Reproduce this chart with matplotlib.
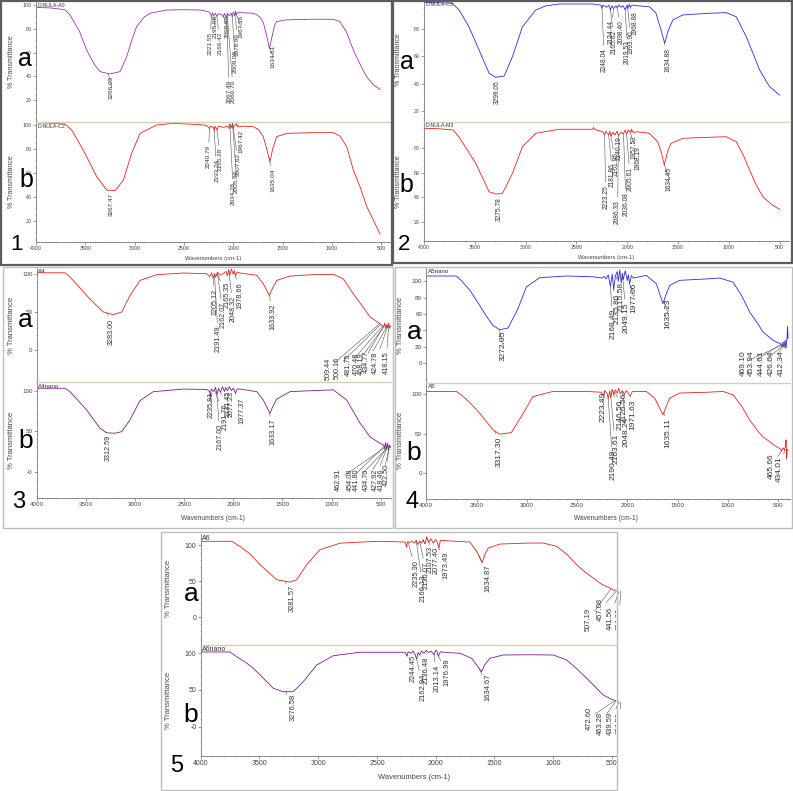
import numpy as np
import matplotlib.pyplot as plt
from matplotlib.patches import Rectangle
from matplotlib.ticker import MultipleLocator

plt.rcParams['font.family'] = ['Liberation Sans', 'DejaVu Sans']

W, H = 793, 791

# ---- spectra: (wavenumber, %T) ----
a0_pts = [(4000, 98), (3850, 97.5), (3706, 96), (3655, 91.6), (3560, 78), (3486, 62), (3400, 49), (3351, 44),
          (3250, 42), (3148, 44), (3080, 56.6), (3030, 70), (2979, 82), (2900, 90), (2844, 93), (2675, 95.8),
          (2500, 96), (2337, 95.8), (2260, 94.5), (2230, 93), (2220, 90), (2210, 93.5), (2195, 91), (2180, 93),
          (2166, 90.5), (2150, 92.5), (2120, 92), (2100, 90), (2090, 93), (2070, 89), (2060, 93), (2040, 91),
          (2020, 93), (2010, 90), (2000, 94), (1985, 91), (1978, 95), (1968, 92), (1950, 94), (1900, 93.5),
          (1800, 93), (1762, 92), (1720, 89), (1694, 85), (1660, 74), (1633, 63.5), (1610, 72), (1580, 83),
          (1560, 86), (1458, 87.5), (1200, 88), (986, 88), (917, 86), (850, 77), (782, 62.2), (700, 48),
          (647, 39.7), (580, 33), (511, 29)]
c2_pts = [(4000, 101.9), (3850, 101.5), (3706, 100.8), (3638, 95.8), (3520, 79), (3385, 57), (3283, 45.8),
          (3199, 45.3), (3114, 54), (3030, 76.4), (2945, 93), (2776, 100), (2607, 101.4), (2337, 100.3),
          (2269, 99.7), (2240, 97), (2230, 99), (2200, 98), (2193, 95), (2185, 99), (2165, 96), (2150, 99),
          (2100, 98), (2060, 99), (2040, 97), (2034, 101), (2020, 97.5), (2007, 101.5), (2000, 97), (1990, 99.5),
          (1967, 101), (1950, 98.5), (1900, 99), (1796, 98.6), (1740, 96), (1695, 90.3), (1660, 80), (1627, 69.5),
          (1600, 80), (1559, 90.3), (1458, 93), (1200, 93.6), (985, 93.6), (917, 90.8), (849, 82), (782, 62.5),
          (714, 48.6), (646, 32), (579, 21), (511, 9)]
c3_pts = [(4000, 99.3), (3850, 99.2), (3721, 98.8), (3655, 94), (3560, 82), (3458, 64.7), (3359, 47.6),
          (3294, 44.7), (3211, 45.6), (3129, 59.8), (3031, 81.7), (2900, 93.9), (2800, 97), (2669, 98.3),
          (2340, 98.3), (2260, 97.5), (2248, 95), (2240, 97.5), (2200, 96), (2180, 97.5), (2165, 94), (2150, 97),
          (2134, 95), (2110, 97), (2098, 95.5), (2080, 97.5), (2060, 96), (2040, 97), (2019, 94), (2000, 97.5),
          (1994, 95), (1980, 98), (1969, 96), (1950, 97.5), (1900, 97), (1781, 96.3), (1716, 91.5), (1670, 80),
          (1630, 69.5), (1600, 78), (1551, 86.6), (1453, 90.3), (1200, 91.5), (1025, 92), (927, 89), (828, 74.4),
          (760, 62), (696, 50), (598, 37.8), (500, 31.7)]
m3_pts = [(4000, 96.4), (3850, 96), (3713, 95), (3657, 89.5), (3491, 67.7), (3359, 44.4), (3294, 42.5),
          (3228, 43), (3129, 59.5), (3031, 81.3), (2900, 92.3), (2669, 95.6), (2340, 95.6), (2330, 97),
          (2320, 95.5), (2242, 93.6), (2223, 91), (2210, 94), (2182, 91), (2170, 94), (2160, 90), (2140, 93),
          (2120, 91), (2100, 94), (2086, 90.5), (2060, 93), (2036, 92), (2020, 95), (2005, 91.5), (1990, 95),
          (1968, 93), (1957, 95.5), (1940, 93), (1900, 93.5), (1781, 92.3), (1700, 85.4), (1665, 77), (1634, 66.3),
          (1600, 78), (1568, 84), (1453, 88.2), (1200, 89), (1025, 89.5), (927, 85.4), (860, 75), (795, 62.2),
          (730, 50), (664, 40.3), (580, 34), (500, 30)]
a4_pts = [(4000, 102), (3712, 102), (3661, 96.4), (3580, 85), (3491, 72), (3400, 60), (3322, 50.4), (3221, 47),
          (3135, 50.4), (3051, 72), (2949, 92), (2779, 99.5), (2509, 101.7), (2271, 100.8), (2240, 97),
          (2220, 102), (2205, 95), (2190, 101), (2180, 96), (2160, 103), (2140, 99), (2100, 101), (2075, 104),
          (2060, 98), (2048, 106), (2035, 99), (2020, 107), (2000, 100), (1990, 105), (1978, 98), (1960, 103),
          (1932, 101.7), (1762, 98.7), (1695, 87.6), (1634, 72.4), (1600, 82), (1558, 92), (1423, 97.7),
          (1200, 99.5), (983, 100), (881, 94), (745, 68), (680, 57), (609, 43.8), (508, 35), (470, 31), (460, 36),
          (450, 29), (440, 34), (430, 30), (420, 36), (410, 29), (400, 32)]
a4n_pts = [(4000, 103), (3712, 103), (3661, 98.8), (3580, 88), (3491, 76), (3356, 53.6), (3288, 48), (3200, 47.5),
           (3135, 49.4), (3051, 64), (2949, 87.7), (2814, 98.8), (2509, 102), (2271, 101.5), (2240, 99),
           (2235, 90), (2225, 102), (2200, 99), (2180, 104), (2167, 95), (2150, 103), (2131, 98), (2110, 105),
           (2090, 99), (2077, 104), (2060, 100), (2040, 105), (2020, 100), (2000, 103), (1977, 97), (1960, 102),
           (1932, 102), (1762, 98.8), (1695, 88.5), (1627, 72), (1600, 80), (1558, 89.7), (1423, 98.8),
           (1200, 100), (983, 101), (847, 88.5), (711, 60), (609, 43), (508, 35), (470, 33), (460, 28), (450, 36),
           (440, 27), (430, 35), (420, 26), (410, 33), (400, 30)]
a5n_pts = [(4000, 106.5), (3701, 106.5), (3652, 101), (3560, 88), (3469, 70.6), (3400, 57), (3336, 46),
           (3270, 40.8), (3187, 42.8), (3088, 66.5), (3005, 93), (2872, 104.4), (2607, 106.5), (2341, 105.6),
           (2250, 104), (2230, 106), (2210, 103), (2190, 108), (2168, 94), (2150, 109), (2135, 90), (2120, 106),
           (2100, 112), (2090, 100), (2075, 114), (2060, 98), (2049, 110), (2040, 102), (2020, 113), (2000, 101),
           (1990, 108), (1977, 97), (1960, 107), (1940, 104), (1811, 107.3), (1711, 97), (1645, 72.6), (1620, 82),
           (1578, 95), (1479, 101.2), (1200, 103), (1081, 104), (948, 99), (860, 82), (782, 62.4), (700, 48),
           (650, 38), (560, 29), (517, 25.7), (480, 24), (460, 20), (451, 26), (440, 19), (430, 28), (420, 18),
           (410, 32), (405, 45), (400, 30)]
a5_pts = [(4000, 103), (3701, 103), (3652, 98.7), (3560, 88), (3469, 75.6), (3336, 54.6), (3270, 49.2),
          (3154, 51.2), (3055, 71.4), (2938, 96.6), (2739, 103), (2408, 103), (2260, 102), (2240, 98), (2223, 104),
          (2200, 100), (2190, 94), (2175, 104), (2163, 95), (2150, 106), (2135, 99), (2120, 105), (2100, 101),
          (2085, 107), (2070, 100), (2048, 104), (2030, 99), (2010, 104), (1990, 101), (1971, 97), (1950, 103),
          (1811, 103), (1727, 94.6), (1645, 73.5), (1620, 82), (1578, 94.6), (1479, 101), (1200, 102),
          (1048, 103), (948, 98.7), (860, 84), (782, 67), (700, 53), (650, 46), (517, 33.5), (480, 31), (465, 28),
          (450, 32), (434, 29), (425, 36), (420, 42), (415, 18), (410, 30), (400, 29)]
a6_pts = [(4000, 105.6), (3736, 105.6), (3666, 98.6), (3580, 88), (3495, 73), (3420, 62), (3353, 52),
          (3240, 48.8), (3183, 52), (3098, 73), (2985, 93.9), (2814, 103), (2502, 105.6), (2260, 104.6),
          (2247, 97), (2240, 105), (2220, 104), (2200, 106), (2180, 103), (2166, 107), (2150, 101), (2136, 106),
          (2120, 103), (2107, 108), (2090, 102), (2077, 112), (2060, 104), (2040, 109), (2020, 103), (2000, 108),
          (1985, 104), (1973, 96), (1960, 107), (1906, 106.4), (1708, 104.6), (1651, 91.6), (1603, 76.3),
          (1580, 88), (1552, 96.2), (1453, 101.8), (1200, 103.2), (1084, 103.2), (970, 98.6), (880, 87),
          (800, 73), (730, 63), (659, 54.4), (590, 46), (517, 40.4), (480, 37), (460, 38), (450, 35),
          (431, 35.9), (420, 37), (400, 33)]
a6n_pts = [(4000, 101.8), (3751, 101.8), (3694, 95.4), (3620, 88), (3552, 79.6), (3460, 65), (3382, 52.3),
           (3297, 47.7), (3212, 47.7), (3127, 61.3), (3013, 84), (2871, 96.7), (2644, 101.4), (2260, 101.4),
           (2244, 96), (2235, 102), (2210, 100), (2190, 103), (2175, 98), (2162, 92), (2150, 101), (2136, 98),
           (2120, 103), (2100, 100), (2080, 104), (2060, 101), (2040, 103), (2013, 98), (2000, 104), (1990, 103),
           (1977, 96), (1960, 102), (1900, 101), (1793, 100), (1694, 93.2), (1609, 75), (1580, 85), (1538, 93.2),
           (1425, 97.7), (1200, 98), (1000, 97.7), (885, 90.9), (800, 79), (715, 66), (640, 54), (574, 43.2),
           (500, 37), (431, 34), (400, 33)]

# ---- peak labels: text, text x (cm-1), top of text (%T) ----
a0_lab = ["3266.03", "2221.55", "2195.08", "2166.42", "2098.60", "2067.49", "2060.70", "2009.09", "1978.99",
          "1967.36", "1634.61"]
a0_lx = [3232, 2235, 2185, 2134, 2066, 2040, 2000, 1979, 1958, 1924, 1593]
a0_ly = [40.3, 77.6, 91.6, 77.6, 91.6, 37, 37, 62, 76.5, 91.6, 66.4]

c2_lab = ["3267.47", "2240.79", "2193.24", "2165.28", "2034.28", "2005.90", "2007.62", "1967.42", "1635.04"]
c2_lx = [3232, 2253, 2167, 2127, 1999, 1965, 1945, 1924, 1593]
c2_ly = [43, 83.3, 71.4, 80.6, 52.8, 62.5, 76.7, 95.8, 63.9]

c3_lab = ["3299.05", "2248.04", "2134.44", "2165.62", "2098.40", "2019.53", "1993.90", "1968.88", "1634.88"]
c3_lx = [3277, 2225, 2160, 2126, 2061, 1995, 1962, 1923, 1601]
c3_ly = [42.7, 65.9, 86.6, 79.3, 86.6, 72, 79.3, 92.7, 65.9]

m3_lab = ["3275.78", "2223.25", "2181.86", "2161.95", "2140.19", "2086.33", "2036.08", "2005.61", "1957.52",
          "1968.19", "1634.45"]
m3_lx = [3260, 2209, 2143, 2110, 2077, 2094, 2012, 1969, 1929, 1896, 1584]
m3_ly = [40.3, 50, 67.7, 77.2, 89.5, 37.6, 44.4, 64.9, 90.9, 81.3, 64.9]

a4_lab = ["3283.00", "2205.12", "2191.49", "2162.07", "2165.35", "2048.32", "1978.66", "1633.92", "509.44",
          "500.16", "481.75", "470.48", "468.19", "434.77", "424.78", "418.15"]
a4_lx = [3237, 2186, 2153, 2102, 2067, 2000, 1932, 1593, 1034, 948, 830, 745, 694, 643, 559, 447]
a4_ly = [41.6, 81, 32.9, 63.5, 89.9, 72.4, 89.9, 61.3, -9, -8, -5, -3, -3, -1, -2, -1]

a4n_lab = ["3312.59", "2235.81", "2167.00", "2191.76", "2131.45", "2077.23", "1977.37", "1633.17", "462.91",
           "454.08", "441.80", "434.70", "427.92", "418.46", "422.50"]
a4n_lx = [3272, 2220, 2135, 2085, 2050, 2024, 1915, 1593, 932, 813, 745, 643, 559, 490, 440]
a4n_ly = [45.3, 99, 59, 83.6, 100, 100, 91.8, 65, 4, 4, 4, 4, 4, 4, 10]

a5n_lab = ["3272.05", "2168.49", "2135.86", "2115.58", "2049.15", "1977.06", "1635.23", "469.10", "453.94",
           "444.61", "426.64", "412.34"]
a5n_lx = [3237, 2142, 2102, 2060, 2010, 1936, 1595, 849, 766, 667, 567, 468]
a5n_ly = [40, 66.5, 84.8, 99, 74.7, 99, 78.7, 15.5, 15.5, 15.5, 15.5, 15.5]

a5_lab = ["3317.30", "2223.49", "2190.49", "2163.61", "2146.56", "2126.56", "2048.24", "1971.63", "1635.11",
          "465.66", "434.01"]
a5_lx = [3270, 2242, 2142, 2115, 2076, 2033, 2010, 1943, 1595, 567, 484]
a5_ly = [46, 102.5, 29.4, 50.4, 92.4, 101, 71.4, 92.4, 69.3, 25.2, 21]

a6_lab = ["3281.57", "2235.30", "2166.13", "2136.07", "2107.53", "2077.40", "1973.49", "1634.87", "507.19",
          "457.08", "441.56", "424.60"]
a6_lx = [3217, 2162, 2106, 2077, 2043, 1997, 1912, 1552, 701, 602, 517, 440]
a6_ly = [45, 80, 59, 77.7, 98.6, 98.6, 91.6, 73, 12.5, 26.5, 15, 12.5]

a6n_lab = ["3276.58", "2244.45", "2162.94", "2136.48", "2013.14", "1976.99", "1634.67", "472.60", "463.28",
           "439.59", "424.59"]
a6n_lx = [3212, 2191, 2106, 2077, 1991, 1901, 1552, 693, 602, 517, 435]
a6n_ly = [45.5, 97.7, 72.8, 95.4, 84, 93.2, 72.8, 27.3, 20.4, 20.4, 20.4]

x_ticks = [4000, 3500, 3000, 2500, 2000, 1500, 1000, 500]

RED = '#e5231d'
BLUE = '#2b2be0'
PURPLE = '#9a35ad'
DPURPLE = '#7c1c8c'
TAN = '#d9ceb2'

fig = plt.figure(figsize=(W / 100, H / 100), dpi=100)


def rect(l, t, r, b):
    return [l / W, 1 - b / H, (r - l) / W, (b - t) / H]


def ftext(x, y, s, **kw):
    fig.text(x / W, 1 - y / H, s, **kw)


def frame(l, t, r, b, color, lw):
    fig.patches.append(Rectangle((l / W, 1 - b / H), (r - l) / W, (b - t) / H, transform=fig.transFigure,
                                 fill=False, edgecolor=color, lw=lw))


def spectrum(box, xlim, ylim, yticks, yticklabels, pts, color, labels, lx, ly, name, fs, tfs, top):
    ax = fig.add_axes(rect(*box))
    wn = np.array([p[0] for p in pts], dtype=float)
    tr = np.array([p[1] for p in pts], dtype=float)
    ax.plot(wn, tr, color=color, lw=0.6)
    for s, tx, ty in zip(labels, lx, ly):
        pk = float(s)
        yv = np.interp(pk, wn[::-1], tr[::-1])
        ax.annotate(s, xy=(pk, yv), xytext=(tx, ty), rotation=90, ha='center', va='top', fontsize=fs,
                    color='#333333', clip_on=True, annotation_clip=False,
                    arrowprops=dict(arrowstyle='-', color='#555555', lw=0.4, shrinkA=0, shrinkB=0))
    ax.set_xlim(*xlim)
    ax.set_ylim(*ylim)
    ax.set_yticks(yticks)
    ax.set_yticklabels(yticklabels)
    ax.set_facecolor('none')
    ax.spines['right'].set_visible(False)
    ax.spines['left'].set_color('#777777')
    ax.spines['left'].set_linewidth(0.6)
    ax.yaxis.set_minor_locator(MultipleLocator(10 if ylim[1] - ylim[0] > 110 else 5))
    ax.tick_params(axis='both', which='major', labelsize=tfs, length=2, width=0.5, pad=1,
                   color='#777777', labelcolor='#444444')
    ax.tick_params(axis='both', which='minor', length=1, width=0.4, color='#888888')
    if top:
        ax.spines['bottom'].set_visible(False)
        ax.spines['top'].set_visible(False)
        ax.set_xticks([])
        ax.tick_params(axis='x', which='minor', bottom=False)
    else:
        ax.spines['top'].set_color(TAN)
        ax.spines['top'].set_linewidth(1.0)
        ax.spines['bottom'].set_color('#777777')
        ax.spines['bottom'].set_linewidth(0.6)
        ax.set_xticks(x_ticks)
        ax.set_xticklabels([str(v) for v in x_ticks])
        ax.xaxis.set_minor_locator(MultipleLocator(100))
    ax.text(0.004, 0.995 if top else 0.985, name, transform=ax.transAxes, ha='left', va='top',
            fontsize=tfs, color='#333333')
    return ax


# ---- panel 1 ----
frame(0.8, 0.8, 392, 265, '#5c5c5c', 1.6)
spectrum((36, 2, 390, 121.7), (4000, 410), (1.9, 102.5), [20, 40, 60, 80, 100], ['20', '40', '60', '80', '100'],
         a0_pts, PURPLE, a0_lab, a0_lx, a0_ly, 'D-NULA-A0', 4.6, 3.8, True)
spectrum((36, 121.7, 390, 242.3), (4000, 410), (2.25, 102.75), [20, 40, 60, 80, 100],
         ['20', '40', '60', '80', '100'], c2_pts, RED, c2_lab, c2_lx, c2_ly, 'D-NULA-C2', 4.6, 3.8, False)
ftext(12, 62, '% Transmittance', rotation=90, ha='center', va='center', fontsize=5, color='#444444')
ftext(12, 182, '% Transmittance', rotation=90, ha='center', va='center', fontsize=5, color='#444444')
ftext(213, 258.3, 'Wavenumbers (cm-1)', ha='center', va='center', fontsize=4.2, color='#444444')
ftext(25, 65.7, 'a', ha='center', va='baseline', fontsize=18)
ftext(26, 186.7, 'b', ha='center', va='baseline', fontsize=18)
ftext(17, 250, '1', ha='center', va='baseline', fontsize=16)

# ---- panel 2 ----
frame(393, 0.8, 792.2, 263, '#5c5c5c', 1.6)
spectrum((424, 1, 789, 121.7), (4000, 407), (12.2, 100.5), [20, 40, 60, 80], ['20', '40', '60', '80'],
         c3_pts, BLUE, c3_lab, c3_lx, c3_ly, 'D-NULA-C3', 4.8, 3.8, True)
spectrum((424, 121.7, 789, 240.7), (4000, 407), (4.3, 101.8), [20, 40, 60, 80], ['20', '40', '60', '80'],
         m3_pts, RED, m3_lab, m3_lx, m3_ly, 'D-NULA-M3', 4.8, 3.8, False)
ftext(398, 60, '% Transmittance', rotation=90, ha='center', va='center', fontsize=5, color='#444444')
ftext(398, 182, '% Transmittance', rotation=90, ha='center', va='center', fontsize=5, color='#444444')
ftext(606, 257.3, 'Wavenumbers (cm-1)', ha='center', va='center', fontsize=4.2, color='#444444')
ftext(407, 69.3, 'a', ha='center', va='baseline', fontsize=18)
ftext(406.5, 191.7, 'b', ha='center', va='baseline', fontsize=18)
ftext(404.5, 250, '2', ha='center', va='baseline', fontsize=16)

# ---- panel 3 ----
frame(3, 267, 393, 528, '#bdbdbd', 1.0)
spectrum((36.7, 268, 391, 382), (4000, 396), (-41.7, 108.3), [0, 50, 100], ['0', '50', '100'],
         a4_pts, RED, a4_lab, a4_lx, a4_ly, 'A4', 5.2, 4.5, True)
spectrum((36.7, 382, 391, 498.3), (4000, 396), (-32.8, 110.7), [0, 50, 100], ['-0', '50', '100'],
         a4n_pts, DPURPLE, a4n_lab, a4n_lx, a4n_ly, 'A4nano', 5.2, 4.5, False)
ftext(12, 325, '% Transmittance', rotation=90, ha='center', va='center', fontsize=5.5, color='#444444')
ftext(12, 440, '% Transmittance', rotation=90, ha='center', va='center', fontsize=5.5, color='#444444')
ftext(213, 518.3, 'Wavenumbers (cm-1)', ha='center', va='center', fontsize=4.8, color='#444444')
ftext(25.3, 327, 'a', ha='center', va='baseline', fontsize=19)
ftext(25.8, 448.3, 'b', ha='center', va='baseline', fontsize=19)
ftext(18.3, 508.3, '3', ha='center', va='baseline', fontsize=17)

# ---- panel 4 ----
frame(395, 267, 792.2, 528, '#bdbdbd', 1.0)
spectrum((426.3, 268, 790, 382.7), (4000, 381), (-24, 116.3), [0, 20, 40, 60, 80, 100],
         ['0', '20', '40', '60', '80', '100'], a5n_pts, BLUE, a5n_lab, a5n_lx, a5n_ly, 'A5nano', 6, 4.5, True)
spectrum((426.3, 382.7, 790, 499), (4000, 381), (-32.4, 114), [0, 50, 100], ['0', '50', '100'],
         a5_pts, RED, a5_lab, a5_lx, a5_ly, 'A5', 6, 4.5, False)
ftext(400, 325, '% Transmittance', rotation=90, ha='center', va='center', fontsize=5.5, color='#444444')
ftext(400, 440, '% Transmittance', rotation=90, ha='center', va='center', fontsize=5.5, color='#444444')
ftext(606, 518.3, 'Wavenumbers (cm-1)', ha='center', va='center', fontsize=4.8, color='#444444')
ftext(413.8, 339.3, 'a', ha='center', va='baseline', fontsize=19)
ftext(413.8, 460, 'b', ha='center', va='baseline', fontsize=19)
ftext(412, 508.3, '4', ha='center', va='baseline', fontsize=17)

# ---- panel 5 ----
frame(161, 532, 617, 790, '#bdbdbd', 1.0)
spectrum((200.7, 534, 616, 644.7), (4000, 465), (-38.6, 115.8), [0, 50, 100], ['0', '50', '100'],
         a6_pts, RED, a6_lab, a6_lx, a6_ly, 'A6', 5.4, 5, True)
spectrum((200.7, 644.7, 616, 755.7), (4000, 465), (-39.5, 111.7), [0, 50, 100], ['-0', '50', '100'],
         a6n_pts, DPURPLE, a6n_lab, a6n_lx, a6n_ly, 'A6nano', 5.4, 5, False)
ftext(169, 588, '% Transmittance', rotation=90, ha='center', va='center', fontsize=5.5, color='#444444')
ftext(169, 700, '% Transmittance', rotation=90, ha='center', va='center', fontsize=5.5, color='#444444')
ftext(414, 777.7, 'Wavenumbers (cm-1)', ha='center', va='center', fontsize=5.4, color='#444444')
ftext(190.8, 601.3, 'a', ha='center', va='baseline', fontsize=19)
ftext(190.5, 721.7, 'b', ha='center', va='baseline', fontsize=19)
ftext(176.7, 771.7, '5', ha='center', va='baseline', fontsize=17)

fig.savefig('out.png', dpi=100, facecolor='white')
